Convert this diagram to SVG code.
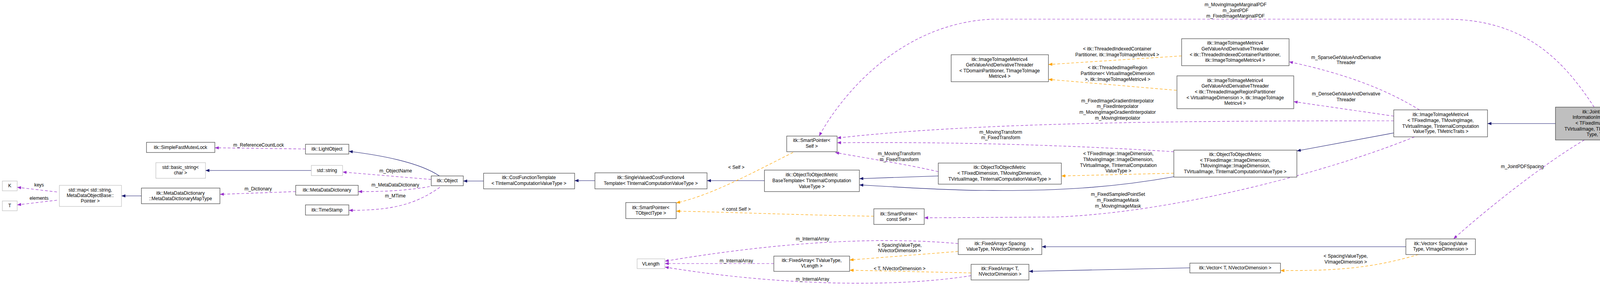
<svg xmlns="http://www.w3.org/2000/svg" width="4261" height="734" viewBox="0 0 4261 734">
<style>
text{font-family:"Liberation Sans",Arial,sans-serif;font-size:12px;fill:#000;text-anchor:middle}
.n{fill:#fff;stroke:#404040;stroke-width:1.2}
.g{fill:#fff;stroke:#bfbfbf;stroke-width:1.2}
.f{fill:#bfbfbf;stroke:#404040;stroke-width:1.2}
.i{fill:none;stroke:#191970;stroke-width:1.2}
.u{fill:none;stroke:#9a32cd;stroke-width:1.2;stroke-dasharray:7,5}
.t{fill:none;stroke:#ffa500;stroke-width:1.2;stroke-dasharray:7,5}
</style>
<defs>
<marker id="ai" markerWidth="11" markerHeight="8" refX="10" refY="4" orient="auto" markerUnits="userSpaceOnUse"><path d="M0,0L10,4L0,8z" fill="#191970"/></marker>
<marker id="au" markerWidth="11" markerHeight="8" refX="10" refY="4" orient="auto" markerUnits="userSpaceOnUse"><path d="M0,0L10,4L0,8z" fill="#9a32cd"/></marker>
<marker id="at" markerWidth="11" markerHeight="8" refX="10" refY="4" orient="auto" markerUnits="userSpaceOnUse"><path d="M0,0L10,4L0,8z" fill="#ffa500"/></marker>
</defs>
<rect width="4261" height="734" fill="#fff"/>
<g id="edges">
<path class="u" marker-end="url(#au)" d="M146,491L44,479"/>
<path class="u" marker-end="url(#au)" d="M146,512L44,524"/>
<path class="i" marker-end="url(#ai)" d="M362,501L311,501"/>
<path class="u" marker-end="url(#au)" d="M782,381L550,378"/>
<path class="i" marker-end="url(#ai)" stroke="#404080" d="M797,436L526,436"/>
<path class="u" marker-end="url(#au)" d="M757,490L563,497"/>
<path class="i" marker-end="url(#ai)" d="M1125,450C1080,420 1000,400 893,387"/>
<path class="u" marker-end="url(#au)" d="M1104,459L877,440"/>
<path class="u" marker-end="url(#au)" d="M1100,477C1040,488 980,490 917,490"/>
<path class="u" marker-end="url(#au)" d="M1126,479C1060,525 1000,538 893,538"/>
<path class="i" marker-end="url(#ai)" d="M1238,463L1186,463"/>
<path class="i" marker-end="url(#ai)" d="M1523,462L1471,462"/>
<path class="i" marker-end="url(#ai)" d="M1957,462L1810,462"/>
<path class="t" marker-end="url(#at)" d="M2030,390C1930,440 1820,500 1731,519"/>
<path class="t" marker-end="url(#at)" d="M2237,553C2050,550 1850,542 1731,540"/>
<path class="i" marker-end="url(#ai)" d="M2402,450L2200,457"/>
<path class="i" marker-end="url(#ai)" d="M3005,452C2850,480 2700,489 2520,487C2400,486 2300,478 2200,473"/>
<path class="t" marker-end="url(#at)" d="M3005,443L2717,450"/>
<path class="u" marker-end="url(#au)" d="M2402,439C2320,420 2220,405 2138,390"/>
<path class="u" marker-end="url(#au)" d="M3005,388C2800,375 2500,362 2143,365"/>
<path class="u" marker-end="url(#au)" d="M3568,309C3000,309 2500,313 2143,353"/>
<path class="u" marker-end="url(#au)" d="M4081,274C4000,150 3900,49 3700,49L2540,49C2300,60 2150,250 2097,348"/>
<path class="t" marker-end="url(#at)" d="M3025,143L2684,165"/>
<path class="t" marker-end="url(#at)" d="M3012,231L2684,203"/>
<path class="u" marker-end="url(#au)" d="M3634,281C3550,230 3450,190 3300,158"/>
<path class="u" marker-end="url(#au)" d="M3568,297L3312,260"/>
<path class="i" marker-end="url(#ai)" d="M3568,340L3320,386"/>
<path class="i" marker-end="url(#ai)" d="M3982,316L3808,316"/>
<path class="u" marker-end="url(#au)" d="M3621,350C3400,440 3000,545 2700,555L2366,557"/>
<path class="u" marker-end="url(#au)" d="M4056,358C3950,420 3800,540 3721,611"/>
<path class="i" marker-end="url(#ai)" d="M3599,631L2667,631"/>
<path class="i" marker-end="url(#ai)" d="M3046,685L2634,694"/>
<path class="t" marker-end="url(#at)" d="M3631,651C3500,690 3400,692 3278,692"/>
<path class="t" marker-end="url(#at)" d="M2453,643L2175,665"/>
<path class="t" marker-end="url(#at)" d="M2486,698L2175,691"/>
<path class="u" marker-end="url(#au)" d="M2453,623C2250,605 2000,618 1702,668"/>
<path class="u" marker-end="url(#au)" d="M1981,674L1702,674"/>
<path class="u" marker-end="url(#au)" d="M2486,705C2300,735 2000,732 1702,683"/>
</g>
<g id="labels">
<text x="100" y="477">keys</text>
<text x="100" y="511">elements</text>
<text x="662" y="375">m_ReferenceCountLock</text>
<text x="661" y="487">m_Dictionary</text>
<text x="1013" y="441">m_ObjectName</text>
<text x="1012" y="477">m_MetaDataDictionary</text>
<text x="1012" y="505">m_MTime</text>
<text x="1885" y="432">&lt; Self &gt;</text>
<text x="1885" y="539">&lt; const Self &gt;</text>
<text x="2302" y="397">m_MovingTransform</text>
<text x="2302" y="412">m_FixedTransform</text>
<text x="2562" y="342">m_MovingTransform</text>
<text x="2562" y="356">m_FixedTransform</text>
<text x="3163" y="16">m_MovingImageMarginalPDF</text>
<text x="3163" y="31">m_JointPDF</text>
<text x="3163" y="45">m_FixedImageMarginalPDF</text>
<text x="2860" y="129">&lt; itk::ThreadedIndexedContainer</text>
<text x="2860" y="144">Partitioner, itk::ImageToImageMetricv4 &gt;</text>
<text x="2861" y="177">&lt; itk::ThreadedImageRegion</text>
<text x="2861" y="192">Partitioner&lt; VirtualImageDimension</text>
<text x="2861" y="207">&gt;, itk::ImageToImageMetricv4 &gt;</text>
<text x="2861" y="262">m_FixedImageGradientInterpolator</text>
<text x="2861" y="276">m_FixedInterpolator</text>
<text x="2861" y="291">m_MovingImageGradientInterpolator</text>
<text x="2861" y="306">m_MovingInterpolator</text>
<text x="3446" y="151">m_SparseGetValueAndDerivative</text>
<text x="3446" y="164">Threader</text>
<text x="3446" y="244">m_DenseGetValueAndDerivative</text>
<text x="3446" y="259">Threader</text>
<text x="2863" y="397">&lt; TFixedImage::ImageDimension,</text>
<text x="2863" y="412">TMovingImage::ImageDimension,</text>
<text x="2863" y="427">TVirtualImage, TInternalComputation</text>
<text x="2863" y="441">ValueType &gt;</text>
<text x="2862" y="501">m_FixedSampledPointSet</text>
<text x="2862" y="516">m_FixedImageMask</text>
<text x="2862" y="531">m_MovingImageMask</text>
<text x="3897" y="430">m_JointPDFSpacing</text>
<text x="3445" y="659">&lt; SpacingValueType,</text>
<text x="3445" y="674">VImageDimension &gt;</text>
<text x="2303" y="631">&lt; SpacingValueType,</text>
<text x="2303" y="645">NVectorDimension &gt;</text>
<text x="2303" y="691">&lt; T, NVectorDimension &gt;</text>
<text x="2080" y="615">m_InternalArray</text>
<text x="1885" y="671">m_InternalArray</text>
<text x="2080" y="718">m_InternalArray</text>
</g>
<g id="K"><rect class="g" x="6" y="463" width="38" height="25"/><text x="25" y="479">K</text></g>
<g id="T"><rect class="g" x="6" y="514" width="38" height="25"/><text x="25" y="530">T</text></g>
<g id="stdmap"><rect class="g" x="152" y="474" width="159" height="54"/><text x="231" y="490">std::map&lt; std::string,</text><text x="231" y="504">MetaDataObjectBase::</text><text x="231" y="518">Pointer &gt;</text></g>
<g id="MapType"><rect class="n" x="362" y="481" width="201" height="40"/><text x="462" y="498">itk::MetaDataDictionary</text><text x="462" y="512">::MetaDataDictionaryMapType</text></g>
<g id="Mutex"><rect class="n" x="375" y="364" width="175" height="26"/><text x="462" y="381">itk::SimpleFastMutexLock</text></g>
<g id="basicstring"><rect class="g" x="399" y="416" width="127" height="40"/><text x="462" y="432">std::basic_string&lt;</text><text x="462" y="446">char &gt;</text></g>
<g id="LightObject"><rect class="n" x="782" y="369" width="111" height="25"/><text x="837" y="385">itk::LightObject</text></g>
<g id="stdstring"><rect class="g" x="797" y="423" width="80" height="26"/><text x="837" y="440">std::string</text></g>
<g id="MetaDataDictionary"><rect class="n" x="757" y="474" width="160" height="25"/><text x="837" y="490">itk::MetaDataDictionary</text></g>
<g id="TimeStamp"><rect class="n" x="782" y="524" width="111" height="26"/><text x="837" y="541">itk::TimeStamp</text></g>
<g id="Object"><rect class="n" x="1104" y="450" width="82" height="25"/><text x="1145" y="466">itk::Object</text></g>
<g id="CostFunctionTemplate"><rect class="n" x="1238" y="443" width="233" height="40"/><text x="1354" y="458">itk::CostFunctionTemplate</text><text x="1354" y="473">&lt; TInternalComputationValueType &gt;</text></g>
<g id="SingleValued"><rect class="n" x="1523" y="442" width="287" height="41"/><text x="1666" y="458">itk::SingleValuedCostFunctionv4</text><text x="1666" y="473">Template&lt; TInternalComputationValueType &gt;</text></g>
<g id="SPTObject"><rect class="n" x="1602" y="518" width="129" height="41"/><text x="1666" y="535">itk::SmartPointer&lt;</text><text x="1666" y="549">TObjectType &gt;</text></g>
<g id="VLength"><rect class="g" x="1631" y="662" width="71" height="25"/><text x="1666" y="679">VLength</text></g>
<g id="SPSelf"><rect class="n" x="2014" y="348" width="129" height="40"/><text x="2078" y="363">itk::SmartPointer&lt;</text><text x="2078" y="378">Self &gt;</text></g>
<g id="Threader"><rect class="n" x="2435" y="140" width="249" height="69"/><text x="2559" y="156">itk::ImageToImageMetricv4</text><text x="2559" y="170">GetValueAndDerivativeThreader</text><text x="2559" y="185">&lt; TDomainPartitioner, TImageToImage</text><text x="2559" y="199">Metricv4 &gt;</text></g>
<g id="BaseTemplate"><rect class="n" x="1957" y="435" width="243" height="55"/><text x="2078" y="451">itk::ObjectToObjectMetric</text><text x="2078" y="466">BaseTemplate&lt; TInternalComputation</text><text x="2078" y="481">ValueType &gt;</text></g>
<g id="O2OFixedDim"><rect class="n" x="2402" y="417" width="315" height="54"/><text x="2559" y="432">itk::ObjectToObjectMetric</text><text x="2559" y="447">&lt; TFixedDimension, TMovingDimension,</text><text x="2559" y="462">TVirtualImage, TInternalComputationValueType &gt;</text></g>
<g id="SPConstSelf"><rect class="n" x="2237" y="534" width="129" height="40"/><text x="2301" y="551">itk::SmartPointer&lt;</text><text x="2301" y="565">const Self &gt;</text></g>
<g id="FASpacing"><rect class="n" x="2453" y="611" width="214" height="40"/><text x="2560" y="627">itk::FixedArray&lt; Spacing</text><text x="2560" y="641">ValueType, NVectorDimension &gt;</text></g>
<g id="FATValue"><rect class="n" x="1981" y="655" width="194" height="39"/><text x="2078" y="670">itk::FixedArray&lt; TValueType,</text><text x="2078" y="684">VLength &gt;</text></g>
<g id="FAT"><rect class="n" x="2486" y="676" width="148" height="40"/><text x="2560" y="691">itk::FixedArray&lt; T,</text><text x="2560" y="705">NVectorDimension &gt;</text></g>
<g id="IndexedThreader"><rect class="n" x="3025" y="99" width="275" height="69"/><text x="3162" y="114">itk::ImageToImageMetricv4</text><text x="3162" y="129">GetValueAndDerivativeThreader</text><text x="3162" y="144">&lt; itk::ThreadedIndexedContainerPartitioner,</text><text x="3162" y="158">itk::ImageToImageMetricv4 &gt;</text></g>
<g id="RegionThreader"><rect class="n" x="3013" y="194" width="299" height="84"/><text x="3162" y="210">itk::ImageToImageMetricv4</text><text x="3162" y="224">GetValueAndDerivativeThreader</text><text x="3162" y="239">&lt; itk::ThreadedImageRegionPartitioner</text><text x="3162" y="254">&lt; VirtualImageDimension &gt;, itk::ImageToImage</text><text x="3162" y="268">Metricv4 &gt;</text></g>
<g id="O2OFixedImage"><rect class="n" x="3005" y="384" width="315" height="69"/><text x="3162" y="399">itk::ObjectToObjectMetric</text><text x="3162" y="414">&lt; TFixedImage::ImageDimension,</text><text x="3162" y="428">TMovingImage::ImageDimension,</text><text x="3162" y="443">TVirtualImage, TInternalComputationValueType &gt;</text></g>
<g id="VectorT"><rect class="n" x="3046" y="673" width="232" height="25"/><text x="3162" y="689">itk::Vector&lt; T, NVectorDimension &gt;</text></g>
<g id="ImageToImage"><rect class="n" x="3568" y="281" width="240" height="69"/><text x="3688" y="297">itk::ImageToImageMetricv4</text><text x="3688" y="312">&lt; TFixedImage, TMovingImage,</text><text x="3688" y="327">TVirtualImage, TInternalComputation</text><text x="3688" y="340">ValueType, TMetricTraits &gt;</text></g>
<g id="VectorSpacing"><rect class="n" x="3599" y="611" width="178" height="40"/><text x="3688" y="627">itk::Vector&lt; SpacingValue</text><text x="3688" y="641">Type, VImageDimension &gt;</text></g>
<g id="Joint"><rect class="f" x="3982" y="274" width="273" height="84"/><text x="4118" y="290">itk::JointHistogramMutual</text><text x="4118" y="304">InformationImageToImageMetricv4</text><text x="4118" y="319">&lt; TFixedImage, TMovingImage,</text><text x="4118" y="334">TVirtualImage, TInternalComputationValue</text><text x="4118" y="348">Type, TMetricTraits &gt;</text></g>
</svg>
